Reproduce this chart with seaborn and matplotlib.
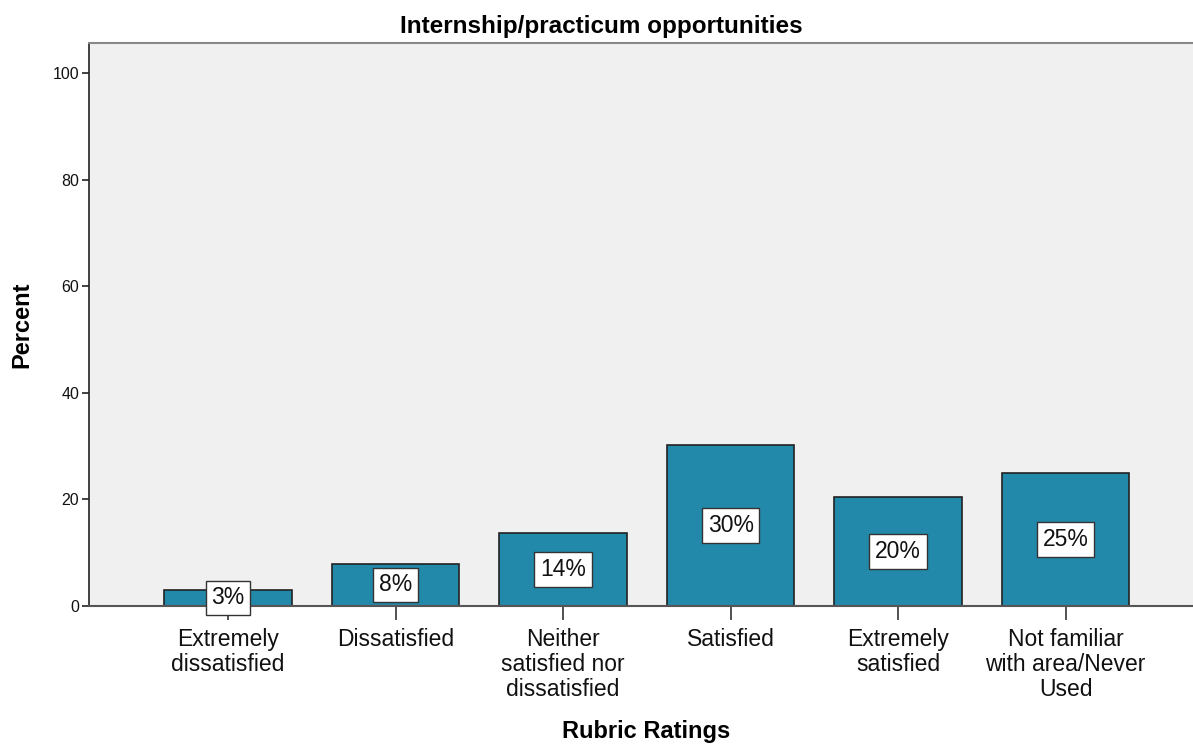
import pandas as pd
import seaborn as sns
import matplotlib.pyplot as plt

categories = ['Extremely\ndissatisfied', 'Dissatisfied', 'Neither\nsatisfied nor\ndissatisfied',
              'Satisfied', 'Extremely\nsatisfied', 'Not familiar\nwith area/Never\nUsed']
percents = [3.0, 7.9, 13.7, 30.2, 20.4, 24.9]
labels = ['3%', '8%', '14%', '30%', '20%', '25%']

data = pd.DataFrame({'Rating': categories, 'Percent': percents})

sns.set_style('white')
plt.rcParams['font.family'] = ['Liberation Sans', 'DejaVu Sans']
plt.rcParams['text.color'] = 'black'

fig = plt.figure(figsize=(11.93, 7.44), dpi=100)
ax = fig.add_axes([0.0746, 0.1855, 0.9254, 0.7565])
ax.set_facecolor('#F0F0F0')

sns.barplot(x='Rating', y='Percent', data=data, color='#2389AB', saturation=1,
            width=0.76, edgecolor='#222222', linewidth=1.2, ax=ax)

# value labels in white boxes at mid height
for i, (v, lab) in enumerate(zip(percents, labels)):
    ax.text(i, v / 2, lab, ha='center', va='center', fontsize=16.5, color='#111111',
            bbox=dict(boxstyle='square,pad=0.25', facecolor='white', edgecolor='#333333', linewidth=1))

ax.set_ylim(0, 105.6)
ax.set_xlim(-0.83, 5.76)
ax.set_yticks([0, 20, 40, 60, 80, 100])
ax.tick_params(axis='y', left=True, direction='out', length=5, width=1.2, labelsize=11.5,
               color='#222222', labelcolor='#111111', pad=2)
ax.tick_params(axis='x', bottom=True, direction='out', length=10, width=1.2, labelsize=16.5,
               color='#333333', labelcolor='#111111', pad=6)
for t in ax.get_xticklabels():
    t.set_linespacing(1.1)

ax.spines['right'].set_visible(False)
ax.spines['top'].set_color('#888888')
ax.spines['top'].set_linewidth(1.5)
ax.spines['left'].set_color('#222222')
ax.spines['left'].set_linewidth(1.2)
ax.spines['bottom'].set_color('#555555')
ax.spines['bottom'].set_linewidth(1.5)

# title is centred on the whole figure, not the axes
ax.set_title('Internship/practicum opportunities', fontsize=17.5, fontweight='bold', pad=7,
             color='black', x=0.464)
ax.set_xlabel('Rubric Ratings', fontsize=17, fontweight='bold', color='black')
ax.xaxis.set_label_coords(0.505, -0.203)
ax.set_ylabel('Percent', fontsize=17, fontweight='bold', labelpad=14, color='black')

plt.savefig('out.png', dpi=100)
